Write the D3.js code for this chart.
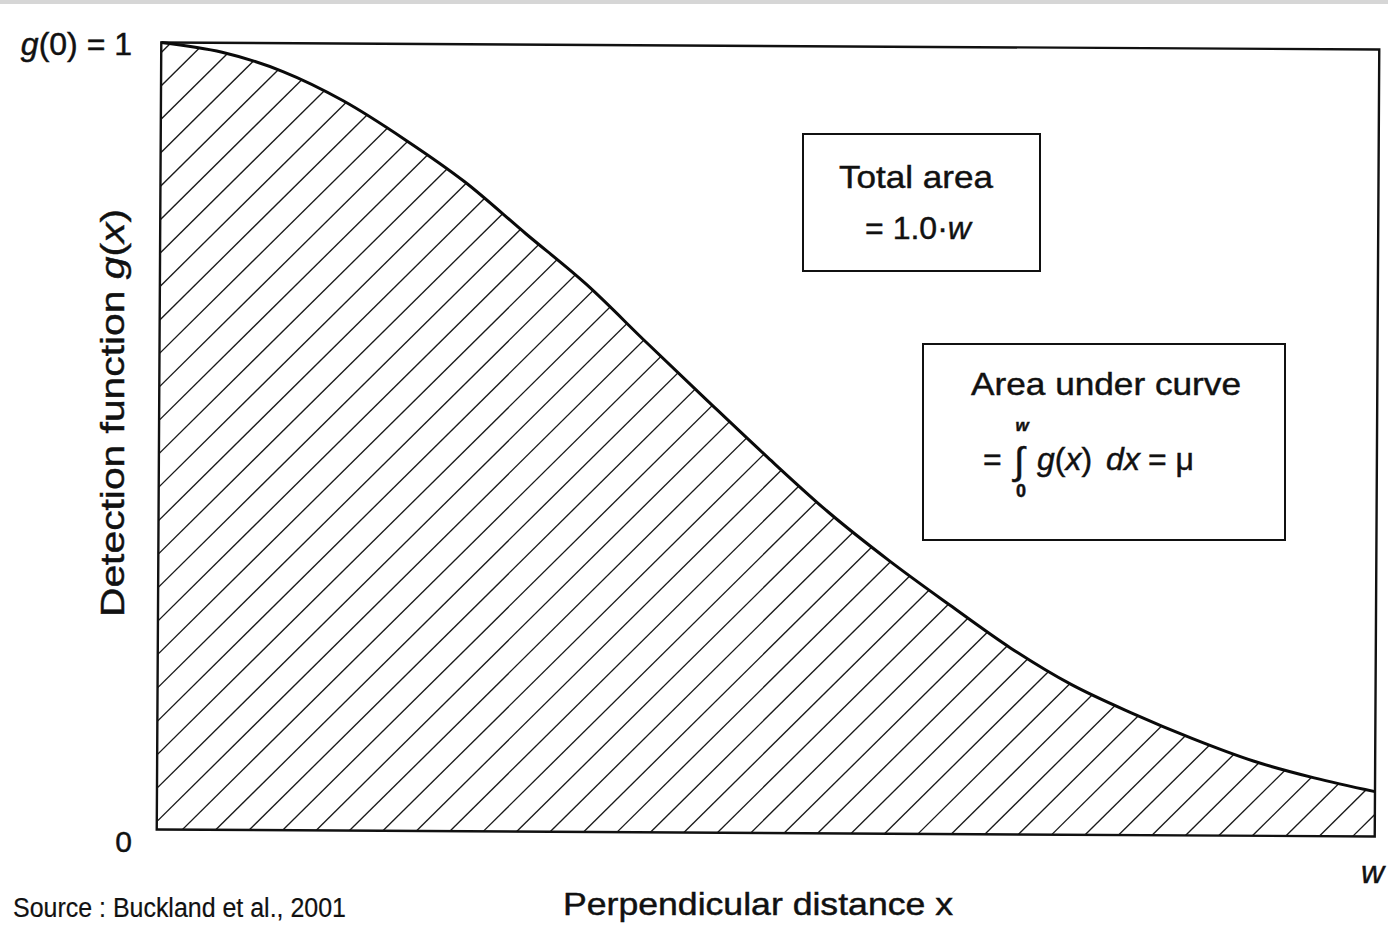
<!DOCTYPE html>
<html><head><meta charset="utf-8">
<script src="https://cdn.jsdelivr.net/npm/d3@7"></script>
<style>body{margin:0;background:#fff}svg{display:block}text{font-family:"Liberation Sans",Arial,sans-serif;fill:#111;stroke:#111;stroke-width:0.45px}</style>
</head><body>
<svg id="chart" width="1388" height="927"></svg>
<script>
// ---- data (x in units of w) ----
const xValues = [0, 0.05, 0.10, 0.15, 0.20, 0.25, 0.30, 0.35, 0.40, 0.45, 0.50,
                 0.55, 0.60, 0.65, 0.70, 0.75, 0.80, 0.85, 0.90, 0.95, 1.00];
const gValues = [1.000, 0.988, 0.964, 0.927, 0.879, 0.825, 0.760, 0.696, 0.622, 0.549, 0.477,
                 0.408, 0.347, 0.291, 0.237, 0.191, 0.155, 0.123, 0.095, 0.074, 0.057];
const yTickLabels = ["0", "g(0) = 1"];
const xEndLabel = "w";
const xTitle = "Perpendicular distance x";
const yTitle = "Detection function g(x)";
const box1Lines = ["Total area", "= 1.0·", "w"];
const box2Title = "Area under curve";
const sourceText = "Source : Buckland et al., 2001";

const data = xValues.map((x, i) => ({x, g: gValues[i]}));

const svg = d3.select("#chart");
const W = 1388, H = 927;

// top grey strip of the screenshot
svg.append("rect").attr("x", 0).attr("y", 0).attr("width", W).attr("height", 4).attr("fill", "#d6d6d6");

const x = d3.scaleLinear().domain([0, 1]).range([159, 1377]);
const y = d3.scaleLinear().domain([0, 1]).range([833, 46]);

// the scanned figure is very slightly rotated
const plot = svg.append("g").attr("transform", "rotate(0.33,768,440)");

const area = d3.area().x(d => x(d.x)).y0(y(0)).y1(d => y(d.g)).curve(d3.curveMonotoneX);
const line = d3.line().x(d => x(d.x)).y(d => y(d.g)).curve(d3.curveMonotoneX);

plot.append("clipPath").attr("id", "under").append("path").attr("d", area(data));

// 45° hatching
const [x0, x1] = x.range();
const [yb, yt] = y.range();
const step = 33.44;
const cVals = d3.range(x0 + yt - 3 * step + 10, x1 + yb + step, step);
plot.append("g").attr("clip-path", "url(#under)")
  .selectAll("line").data(cVals).join("line")
  .attr("x1", c => c - yb).attr("y1", yb)
  .attr("x2", c => c - yt).attr("y2", yt)
  .attr("stroke", "#1a1a1a").attr("stroke-width", 1.35);

// frame
plot.append("rect")
  .attr("x", x0).attr("y", yt).attr("width", x1 - x0).attr("height", yb - yt)
  .attr("fill", "none").attr("stroke", "#111").attr("stroke-width", 2.4);

// curve
plot.append("path").attr("d", line(data))
  .attr("fill", "none").attr("stroke", "#0a0a0a").attr("stroke-width", 3);

// ---- labels ----
const tl = svg.append("text").attr("x", 132).attr("y", 55).attr("text-anchor", "end").attr("font-size", 32);
tl.append("tspan").attr("font-style", "italic").text(yTickLabels[1].slice(0, 1));
tl.append("tspan").text(yTickLabels[1].slice(1));

svg.append("text").attr("x", 132).attr("y", 852).attr("text-anchor", "end").attr("font-size", 30).text(yTickLabels[0]);

svg.append("text").attr("x", 1384).attr("y", 883).attr("text-anchor", "end")
  .attr("font-size", 32).attr("font-style", "italic").text(xEndLabel);

svg.append("text").attr("x", 758).attr("y", 915).attr("text-anchor", "middle")
  .attr("font-size", 32).attr("textLength", 390).attr("lengthAdjust", "spacingAndGlyphs").text(xTitle);

const yt2 = svg.append("text").attr("transform", "translate(124,413) rotate(-90)")
  .attr("text-anchor", "middle").attr("font-size", 34)
  .attr("textLength", 408).attr("lengthAdjust", "spacingAndGlyphs");
yt2.append("tspan").text("Detection function ");
yt2.append("tspan").attr("font-style", "italic").text("g");
yt2.append("tspan").text("(");
yt2.append("tspan").attr("font-style", "italic").text("x");
yt2.append("tspan").text(")");

svg.append("text").attr("x", 13).attr("y", 917).attr("font-size", 27)
  .attr("font-family", "Lato, 'Open Sans', sans-serif").style("stroke-width", "0.2px")
  .attr("textLength", 333).attr("lengthAdjust", "spacingAndGlyphs").text(sourceText);

// ---- box 1 ----
svg.append("rect").attr("x", 803).attr("y", 134).attr("width", 237).attr("height", 137)
  .attr("fill", "#fff").attr("stroke", "#111").attr("stroke-width", 2);
svg.append("text").attr("x", 916).attr("y", 188).attr("text-anchor", "middle").attr("font-size", 32)
  .attr("textLength", 154).attr("lengthAdjust", "spacingAndGlyphs").text(box1Lines[0]);
const b1 = svg.append("text").attr("x", 918).attr("y", 239).attr("text-anchor", "middle").attr("font-size", 32);
b1.append("tspan").text(box1Lines[1]);
b1.append("tspan").attr("font-style", "italic").text(box1Lines[2]);

// ---- box 2 ----
svg.append("rect").attr("x", 923).attr("y", 344).attr("width", 362).attr("height", 196)
  .attr("fill", "#fff").attr("stroke", "#111").attr("stroke-width", 2);
svg.append("text").attr("x", 1106).attr("y", 395).attr("text-anchor", "middle").attr("font-size", 32)
  .attr("textLength", 270).attr("lengthAdjust", "spacingAndGlyphs").text(box2Title);
svg.append("text").attr("x", 983).attr("y", 470).attr("font-size", 32).text("=");
svg.append("text").attr("x", 1014).attr("y", 474).attr("font-size", 38).text("∫");
svg.append("text").attr("x", 1022).attr("y", 431).attr("text-anchor", "middle").attr("font-size", 17)
  .attr("font-style", "italic").attr("font-weight", "bold").text("w");
svg.append("text").attr("x", 1021).attr("y", 497).attr("text-anchor", "middle").attr("font-size", 18)
  .attr("font-weight", "bold").text("0");
const gx = svg.append("text").attr("x", 1037).attr("y", 470).attr("font-size", 32);
gx.append("tspan").attr("font-style", "italic").text("g");
gx.append("tspan").text("(");
gx.append("tspan").attr("font-style", "italic").text("x");
gx.append("tspan").text(")");
gx.append("tspan").attr("dx", 14).attr("font-style", "italic").text("dx");
gx.append("tspan").attr("dx", 8).text("= μ");
</script>
</body></html>
